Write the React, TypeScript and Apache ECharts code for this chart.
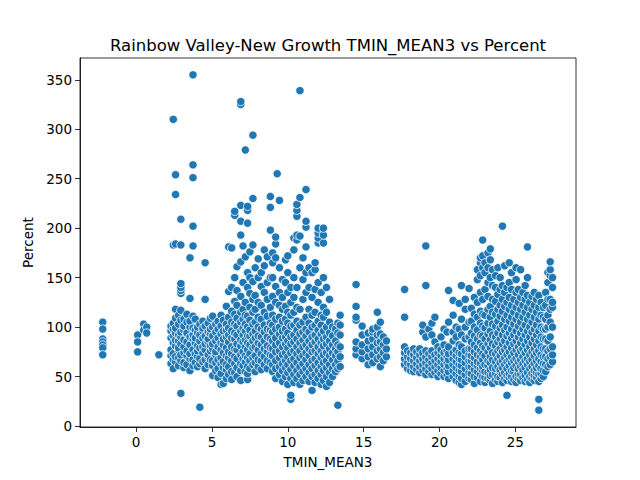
import React, { useEffect, useRef } from "react";
import * as echarts from "echarts";

// each entry: [TMIN_MEAN3, Percent values read at that x]
const coldEdge: [number, number[]][] = [
  [-2.2, [105, 98, 88, 85, 82, 79, 72]],
  [0.1, [92, 85, 75]],
  [0.5, [103, 97]],
  [0.7, [100, 94]],
  [1.5, [72]],
];

const earlyBand: [number, number[]][] = [
  [2.3, [63, 71, 77, 89, 96, 101]],
  [2.45, [58, 67, 73, 84, 91, 98, 104, 183, 310]],
  [2.6, [65, 70, 81, 87, 94, 99, 109, 118, 184, 234, 254]],
  [2.8, [61, 69, 77, 79, 86, 92, 103, 112]],
  [2.95, [33, 66, 72, 83, 90, 95, 107, 117, 134, 137, 140, 144, 183, 209]],
  [3.15, [59, 64, 74, 80, 87, 97, 101, 108]],
  [3.35, [62, 71, 76, 85, 93, 94, 105, 113]],
  [3.55, [56, 68, 73, 82, 90, 100, 106, 129, 170]],
  [3.75, [61, 67, 77, 88, 92, 99, 111, 182, 202, 251, 264, 355]],
  [3.9, [64, 73, 84, 89, 97, 108]],
  [4.05, [60, 70, 76, 81, 94, 100]],
  [4.2, [19, 63, 68, 79, 86, 92, 103]],
  [4.4, [65, 74, 80, 89, 96, 99, 106]],
  [4.55, [58, 67, 77, 83, 91, 101, 128, 165]],
  [4.75, [62, 70, 72, 85, 88, 95, 104]],
  [4.9, [67, 76, 81, 93, 98, 109]],
];

const springBand: [number, number[]][] = [
  [5.05, [51, 61, 66, 78, 83, 91, 100, 111]],
  [5.25, [56, 64, 72, 75, 86, 95, 103]],
  [5.4, [49, 58, 67, 80, 89, 98, 106]],
  [5.6, [42, 53, 63, 69, 77, 84, 93, 101, 112]],
  [5.75, [43, 59, 65, 74, 82, 88, 96, 107]],
  [5.95, [48, 57, 62, 71, 79, 90, 97, 103, 121]],
  [6.1, [52, 60, 69, 75, 85, 92, 99, 110, 136, 181]],
  [6.3, [47, 55, 66, 73, 80, 89, 96, 105, 116, 140, 180]],
  [6.5, [54, 63, 70, 78, 88, 94, 103, 113, 126, 150, 213, 217]],
  [6.65, [50, 59, 68, 77, 83, 92, 101, 109, 122, 137, 161]],
  [6.9, [46, 56, 63, 72, 81, 87, 96, 105, 115, 131, 166, 193, 207, 223, 325, 328]],
  [7.05, [61, 68, 75, 85, 92, 99, 108, 118, 145, 182]],
  [7.2, [55, 65, 71, 80, 87, 96, 103, 112, 125, 171, 279]],
  [7.35, [47, 53, 60, 69, 77, 84, 91, 100, 111, 140, 155, 205, 218, 222]],
  [7.5, [58, 66, 73, 82, 91, 97, 107, 120, 134, 150, 176]],
  [7.7, [62, 69, 79, 86, 93, 103, 115, 128, 146, 183, 230, 294]],
  [7.85, [55, 64, 71, 80, 89, 96, 105, 118, 132, 160]],
  [8.05, [60, 67, 77, 84, 91, 100, 110, 125, 150, 169]],
  [8.25, [57, 66, 73, 82, 90, 98, 108, 122, 141, 155]],
  [8.45, [62, 70, 78, 86, 95, 102, 115, 135, 162, 178]],
  [8.65, [58, 66, 75, 81, 90, 98, 111, 128, 145, 171]],
  [8.85, [64, 72, 79, 88, 97, 104, 120, 150, 198, 221, 232]],
];

const mildBand: [number, number[]][] = [
  [9.0, [55, 62, 71, 78, 86, 95, 102, 112, 131, 150, 165, 175]],
  [9.2, [48, 58, 66, 75, 82, 89, 98, 108, 125, 141, 170, 184, 191]],
  [9.3, [255]],
  [9.45, [52, 60, 69, 76, 84, 93, 100, 110, 122, 135, 160, 228]],
  [9.65, [45, 56, 63, 72, 80, 89, 96, 106, 118, 130, 148]],
  [9.85, [50, 59, 66, 74, 83, 90, 98, 108, 121, 145, 168]],
  [10.0, [42, 54, 62, 70, 79, 86, 94, 104, 115, 135, 155, 172]],
  [10.2, [27, 31, 48, 57, 66, 74, 83, 90, 101, 112, 125, 140]],
  [10.4, [44, 52, 61, 68, 76, 85, 92, 102, 115, 130, 150, 178, 190]],
  [10.6, [48, 56, 64, 73, 80, 88, 97, 106, 120, 140, 188, 193, 212, 218, 224]],
  [10.8, [42, 52, 60, 69, 76, 84, 93, 102, 118, 160, 192, 231, 339]],
  [11.0, [46, 55, 63, 71, 80, 87, 95, 105, 128, 148, 170]],
  [11.2, [50, 58, 67, 74, 82, 91, 98, 110, 135, 155, 181, 201, 207, 239]],
  [11.4, [45, 54, 62, 71, 78, 86, 95, 104, 118, 140, 160]],
  [11.6, [36, 50, 58, 66, 75, 82, 90, 100, 112, 130, 155]],
  [11.8, [44, 52, 61, 68, 76, 85, 92, 102, 115, 138, 158, 165]],
  [12.0, [48, 56, 64, 73, 80, 88, 97, 106, 125, 145, 185, 190, 195, 200]],
  [12.2, [42, 52, 60, 69, 76, 84, 93, 102, 112, 135]],
  [12.35, [46, 56, 64, 72, 81, 88, 96, 110, 120, 150, 185, 193, 200]],
  [12.55, [40, 50, 59, 66, 74, 83, 90, 100, 115, 140]],
  [12.75, [44, 54, 62, 71, 78, 86, 94, 105, 128]],
  [12.95, [50, 58, 67, 74, 82, 91, 100]],
  [13.15, [55, 62, 71, 78, 86, 98]],
  [13.3, [21, 58, 66, 75, 82, 94, 104]],
  [13.45, [60, 70, 80, 92, 102, 112]],
];

const gapBand: [number, number[]][] = [
  [14.5, [72, 78, 85, 107, 110, 121, 143]],
  [14.9, [68, 75, 82, 92, 101]],
  [15.3, [62, 70, 78, 86, 94]],
  [15.6, [64, 72, 80, 88, 95, 98]],
  [15.9, [68, 76, 84, 92, 100, 115]],
  [16.1, [60, 70, 78, 85, 93, 105]],
  [16.3, [66, 74, 82, 90]],
  [16.5, [70, 78, 86]],
];

const summerBand: [number, number[]][] = [
  [17.7, [62, 68, 74, 80, 110, 138]],
  [17.9, [58, 64, 70, 76]],
  [18.1, [56, 62, 68, 74]],
  [18.3, [55, 60, 66, 72, 78]],
  [18.5, [57, 63, 69, 75]],
  [18.7, [54, 60, 66, 72, 78]],
  [18.9, [56, 62, 68, 74, 95, 102]],
  [19.1, [52, 58, 64, 70, 76, 90, 142, 182]],
  [19.3, [55, 61, 67, 73, 98]],
  [19.5, [52, 58, 64, 70, 76, 92, 104]],
  [19.7, [54, 60, 66, 72, 85, 110]],
  [19.9, [50, 56, 62, 68, 74, 80]],
  [20.1, [53, 59, 65, 71, 77, 90]],
  [20.3, [50, 56, 62, 68, 74, 82, 98]],
  [20.5, [52, 58, 64, 70, 76, 95]],
  [20.6, [48, 55, 61, 67, 73, 80, 105, 137]],
  [20.9, [50, 56, 62, 68, 74, 86, 95, 112, 127]],
  [21.1, [46, 53, 59, 65, 71, 77, 90, 100]],
  [21.3, [44, 50, 56, 62, 68, 74, 82, 98, 124]],
  [21.45, [42, 48, 55, 61, 67, 73, 80, 92, 108, 142]],
  [21.7, [45, 52, 58, 64, 70, 76, 88, 100, 118, 128]],
  [21.95, [48, 54, 60, 66, 72, 78, 90, 105, 139]],
];

const hotBand: [number, number[]][] = [
  [22.1, [47, 53, 60, 66, 71, 78, 85, 94, 106, 119]],
  [22.3, [43, 50, 57, 63, 69, 75, 82, 91, 100, 113, 130]],
  [22.5, [49, 55, 61, 65, 72, 79, 88, 97, 110, 125, 148, 158]],
  [22.7, [45, 52, 58, 63, 70, 76, 84, 92, 104, 116, 135, 152, 165, 170]],
  [22.85, [50, 56, 60, 67, 73, 81, 91, 101, 113, 128, 160, 172, 188]],
  [23.0, [44, 49, 55, 62, 71, 79, 88, 99, 112, 138, 155, 165]],
  [23.2, [48, 54, 61, 66, 75, 83, 93, 104, 118, 131, 145, 160, 175]],
  [23.35, [46, 51, 57, 64, 70, 79, 87, 96, 110, 121, 150, 168, 179]],
  [23.5, [43, 52, 59, 67, 74, 83, 92, 103, 115, 128, 142, 158]],
  [23.7, [47, 53, 58, 65, 73, 81, 90, 101, 113, 126, 140, 152]],
  [23.85, [45, 50, 60, 68, 76, 85, 94, 106, 118, 133, 160]],
  [24.0, [49, 55, 57, 64, 71, 78, 88, 99, 111, 122, 138, 150]],
  [24.15, [44, 52, 59, 66, 75, 83, 92, 102, 116, 128, 142, 202]],
  [24.3, [48, 54, 62, 69, 77, 86, 97, 108, 121, 135, 162]],
  [24.45, [31, 46, 51, 58, 65, 72, 80, 91, 100, 112, 125, 140]],
  [24.6, [49, 53, 61, 67, 75, 84, 94, 106, 118, 130, 145, 165]],
  [24.75, [45, 50, 56, 64, 70, 79, 89, 98, 110, 122, 138, 155]],
  [24.9, [47, 55, 59, 66, 74, 83, 92, 103, 115, 128]],
  [25.05, [44, 50, 61, 68, 77, 86, 96, 108, 120, 135, 148, 160]],
  [25.2, [48, 53, 58, 65, 72, 80, 90, 101, 112, 125, 138]],
  [25.35, [46, 52, 60, 67, 76, 84, 94, 105, 118, 130, 158]],
  [25.5, [49, 55, 57, 63, 70, 78, 88, 98, 110, 122, 135]],
  [25.65, [45, 51, 59, 66, 74, 82, 92, 102, 115, 128, 142]],
  [25.8, [47, 54, 62, 68, 77, 86, 96, 108, 120, 132, 150, 181]],
  [25.95, [44, 50, 58, 65, 72, 80, 90, 100, 112, 125]],
  [26.1, [48, 53, 60, 67, 75, 84, 95, 105, 118, 131]],
  [26.25, [46, 51, 56, 63, 71, 78, 88, 98, 110, 122, 135]],
  [26.4, [49, 54, 59, 66, 74, 82, 92, 102, 115, 128]],
  [26.55, [16, 27, 45, 52, 61, 68, 76, 86, 96, 108, 120, 132]],
  [26.7, [48, 53, 58, 65, 72, 80, 90, 100, 112, 125]],
  [26.85, [50, 56, 63, 70, 78, 88, 98, 110, 120]],
  [27.0, [55, 62, 70, 78, 88, 98, 108, 122, 135]],
  [27.15, [60, 68, 76, 86, 100, 112, 128, 145, 155]],
  [27.3, [62, 70, 78, 90, 105, 118, 128, 152, 158, 166]],
  [27.45, [65, 72, 80, 100, 120, 125, 140, 150]],
];

const xTicks = [0, 5, 10, 15, 20, 25];
const yTicks = [0, 50, 100, 150, 200, 250, 300, 350];

const toPoints = (cols: [number, number[]][]) =>
  cols.flatMap(([x, ys]) => ys.map((y) => [x, y]));

const App = () => {
  const chartRef = useRef<HTMLDivElement>(null);

  useEffect(() => {
    if (!chartRef.current) return;
    const chart = echarts.init(chartRef.current, undefined, { renderer: "svg" });

    const points = [
      coldEdge,
      earlyBand,
      springBand,
      mildBand,
      gapBand,
      summerBand,
      hotBand,
    ].flatMap(toPoints);

    const font = "DejaVu Sans";

    chart.setOption({
      animation: false,
      backgroundColor: "#ffffff",
      title: {
        text: "Rainbow Valley-New Growth TMIN_MEAN3 vs Percent",
        left: 323,
        top: 32,
        textAlign: "center",
        textStyle: {
          fontFamily: font,
          fontSize: 16.5,
          fontWeight: "normal",
          color: "#000",
        },
      },
      grid: {
        left: 80,
        right: 64,
        top: 58,
        bottom: 53,
        show: true,
        borderColor: "#000",
        borderWidth: 0.8,
        backgroundColor: "transparent",
      },
      xAxis: {
        type: "value",
        min: -3.7,
        max: 29.0,
        name: "TMIN_MEAN3",
        nameLocation: "middle",
        nameGap: 28,
        nameTextStyle: { fontFamily: font, fontSize: 13.5, color: "#000" },
        axisLine: { show: true, onZero: false, lineStyle: { color: "#000", width: 0.8 } },
        axisTick: {
          show: true,
          length: 5,
          customValues: xTicks,
          lineStyle: { color: "#000", width: 0.8 },
        },
        axisLabel: {
          customValues: xTicks,
          margin: 8,
          fontFamily: font,
          fontSize: 13.5,
          color: "#000",
        },
        splitLine: { show: false },
      },
      yAxis: {
        type: "value",
        min: -1,
        max: 372,
        name: "Percent",
        nameLocation: "middle",
        nameGap: 40,
        nameTextStyle: { fontFamily: font, fontSize: 13.5, color: "#000" },
        axisLine: { show: true, onZero: false, lineStyle: { color: "#000", width: 0.8 } },
        axisTick: {
          show: true,
          length: 5,
          customValues: yTicks,
          lineStyle: { color: "#000", width: 0.8 },
        },
        axisLabel: {
          customValues: yTicks,
          margin: 8,
          fontFamily: font,
          fontSize: 13.5,
          color: "#000",
        },
        splitLine: { show: false },
      },
      series: [
        {
          type: "scatter",
          data: points,
          symbolSize: 8.3,
          itemStyle: {
            color: "#1f77b4",
            borderColor: "#ffffff",
            borderWidth: 0.8,
            opacity: 1,
          },
        },
      ],
    });

    return () => {
      chart.dispose();
    };
  }, []);

  return (
    <div
      ref={chartRef}
      style={{ position: "absolute", left: 0, top: 0, width: 640, height: 480 }}
    />
  );
};

export default App;
